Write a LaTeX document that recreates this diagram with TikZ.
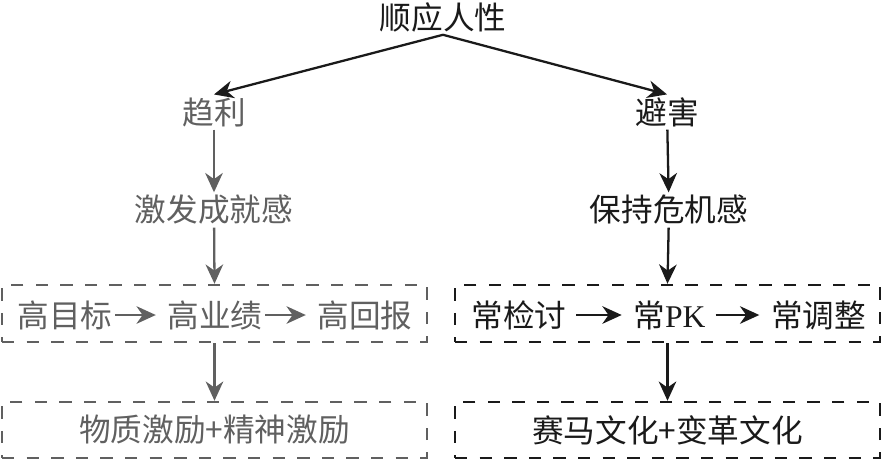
\documentclass[tikz,border=0pt]{standalone}
\usepackage{fontspec}
\setmainfont{Liberation Serif}
\newfontfamily\cjk{Noto Sans CJK SC}
\usepackage{tikz}
\usetikzlibrary{arrows.meta}
\usepackage{xcolor}
\definecolor{leftgrey}{HTML}{606060}
\definecolor{rightblack}{HTML}{1A1A1A}

\begin{document}
\begin{tikzpicture}[x=0.02cm,y=-0.02cm,
  word/.style={font=\cjk\fontsize{18}{20}\selectfont, inner sep=1.5pt},
  dbox/.style={draw, line width=1.4pt, dash pattern=on 7pt off 7pt,
               minimum width=8.5cm, minimum height=1.14cm},
  arr/.style={-{Stealth[length=11pt,width=10pt,inset=3.5pt]}, line width=1.3pt},
  grey/.style={color=leftgrey, text=leftgrey},
  blk/.style={color=rightblack, text=rightblack}]
\useasboundingbox (0,0) rectangle (883,461);
% top
\node [word, blk] (top) at (443,17) {顺应人性};
\node [word, grey] (qu) at (214,112) {趋利};
\node [word, blk] (bi) at (667,112) {避害};
\draw [arr, blk] (top.south) -- (qu.north);
\draw [arr, blk] (top.south) -- (bi.north);
% left branch
\node [word, grey] (jifa) at (214,210) {激发成就感};
\node [dbox, grey] (lbox) at (214.5,313.5) {};
\node [word, grey] (gaomu) at (65,315) {高目标};
\node [word, grey] (gaoye) at (215,315) {高业绩};
\node [word, grey] (gaohui) at (365,315) {高回报};
\node [dbox, grey, minimum height=1.12cm] (lbot) at (214.5,430) {};
\node [word, grey] at (lbot) {物质激励+精神激励};
\draw [arr, grey] (qu) -- (jifa);
\draw [arr, grey] (jifa) -- (lbox.north);
\draw [arr, grey, shorten >=5pt] (gaomu) -- (gaoye);
\draw [arr, grey, shorten >=5pt] (gaoye) -- (gaohui);
\draw [arr, grey] (lbox.south) -- (lbot.north);
% right branch
\node [word, blk] (baochi) at (669,210) {保持危机感};
\node [dbox, blk] (rbox) at (667.5,313.5) {};
\node [word, blk] (jiantao) at (519,315) {常检讨};
\node [word, blk] (pk) at (669.5,315) {常{\rmfamily PK}};
\node [word, blk] (tiaozheng) at (818.5,315) {常调整};
\node [dbox, blk, minimum height=1.12cm] (rbot) at (667.5,430) {};
\node [word, blk] at (rbot) {赛马文化+变革文化};
\draw [arr, blk] (bi) -- (baochi);
\draw [arr, blk] (baochi) -- (rbox.north);
\draw [arr, blk, shorten <=4pt, shorten >=5pt] (jiantao) -- (pk);
\draw [arr, blk, shorten <=4pt, shorten >=5pt] (pk) -- (tiaozheng);
\draw [arr, blk] (rbox.south) -- (rbot.north);
\end{tikzpicture}
\end{document}
